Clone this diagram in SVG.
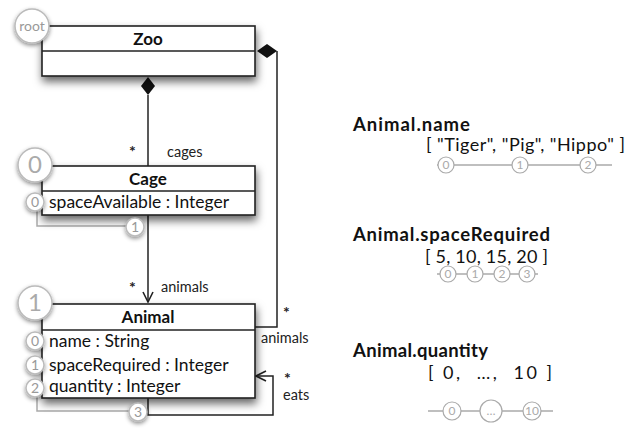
<svg xmlns="http://www.w3.org/2000/svg" width="629" height="431" viewBox="0 0 629 431">
<defs>
<style>
.box{fill:#fff;stroke:#222;stroke-width:1.6}
.ln{fill:none;stroke:#222;stroke-width:1.5}
.gl{fill:none;stroke:#aaa;stroke-width:1.5}
.bc{fill:#fff;stroke:#bbb;stroke-width:1.5}
.title{font-family:Lato,"Open Sans",sans-serif;font-weight:bold;font-size:17px;fill:#111;text-anchor:middle}
.attr{font-family:Lato,"Open Sans",sans-serif;font-size:17.5px;fill:#111}
.lbl{font-family:Lato,"Open Sans",sans-serif;font-size:14.5px;fill:#222}
.ast{font-family:Lato,"Open Sans",sans-serif;font-size:16px;font-weight:bold;fill:#222}
.big{font-family:Lato,"Open Sans",sans-serif;font-size:24px;fill:#aaa;text-anchor:middle}
.sm{font-family:Lato,"Open Sans",sans-serif;font-size:14px;fill:#999;text-anchor:middle}
.rc{fill:#fff;stroke:#aaa;stroke-width:1.2}
.rn{font-family:Lato,"Open Sans",sans-serif;font-size:12px;fill:#aaa;text-anchor:middle}
.hd{font-family:Lato,"Open Sans",sans-serif;font-weight:bold;font-size:18.5px;fill:#111}
.arr{font-family:Lato,"Open Sans",sans-serif;font-size:18px;fill:#111;white-space:pre}
</style>
<filter id="sh" x="-20%" y="-30%" width="140%" height="170%">
<feDropShadow dx="1" dy="5" stdDeviation="4" flood-color="#000" flood-opacity="0.6"/>
</filter>
<filter id="csh" x="-50%" y="-50%" width="200%" height="200%">
<feDropShadow dx="0" dy="2" stdDeviation="2" flood-color="#000" flood-opacity="0.45"/>
</filter>
<marker id="open" viewBox="0 0 12 12" refX="11" refY="6" markerWidth="12" markerHeight="12" markerUnits="userSpaceOnUse" orient="auto">
<path d="M1,1 L11,6 L1,11" fill="none" stroke="#222" stroke-width="1.6"/>
</marker>
</defs>

<g id="connectors">
<line class="ln" x1="148" y1="95" x2="148" y2="166"/>
<path class="ln" d="M148,215 V302" marker-end="url(#open)"/>
<path class="ln" d="M277,51 V327 H255"/>
<path class="ln" d="M148,398 V415 H273 V376 H256" marker-end="url(#open)"/>
<polygon points="148,77 155,86 148,95 141,86" fill="#111"/>
<polygon points="257,51 267,44 277,51 267,58" fill="#111"/>
<text class="ast" x="129" y="157">*</text>
<text class="lbl" x="167" y="157">cages</text>
<text class="ast" x="129" y="293">*</text>
<text class="lbl" x="161" y="292">animals</text>
<text class="ast" x="283" y="318">*</text>
<text class="lbl" x="261" y="343">animals</text>
<text class="ast" x="284" y="384">*</text>
<text class="lbl" x="283" y="400">eats</text>
</g>

<g id="zoo">
<rect class="box" x="42" y="26" width="213" height="50" filter="url(#sh)"/>
<line class="ln" x1="42" y1="51" x2="255" y2="51"/>
<text class="title" x="148" y="45">Zoo</text>
<circle class="bc" cx="32" cy="26" r="17" filter="url(#csh)"/>
<text class="sm" x="32" y="31">root</text>
</g>

<g id="cage">
<path class="gl" d="M37,210 V226 H130"/>
<rect class="box" x="42" y="166" width="213" height="49" filter="url(#sh)"/>
<line class="ln" x1="42" y1="191" x2="255" y2="191"/>
<text class="title" x="148" y="185">Cage</text>
<text class="attr" x="49" y="208">spaceAvailable : Integer</text>
<circle class="bc" cx="35" cy="165" r="17" filter="url(#csh)"/>
<text class="big" x="35" y="173">0</text>
<circle class="bc" cx="35" cy="202" r="9" filter="url(#csh)"/>
<text class="sm" x="35" y="207">0</text>
<circle class="bc" cx="135" cy="227" r="9" filter="url(#csh)"/>
<text class="sm" x="135" y="232">1</text>
</g>

<g id="animal">
<path class="gl" d="M37,396 V411 H130"/>
<rect class="box" x="42" y="304" width="213" height="94" filter="url(#sh)"/>
<line class="ln" x1="42" y1="330" x2="255" y2="330"/>
<text class="title" x="148" y="323">Animal</text>
<text class="attr" x="49" y="347">name : String</text>
<text class="attr" x="49" y="371">spaceRequired : Integer</text>
<text class="attr" x="49" y="392">quantity : Integer</text>
<circle class="bc" cx="35" cy="303" r="17" filter="url(#csh)"/>
<text class="big" x="35" y="311">1</text>
<circle class="bc" cx="35" cy="341" r="9" filter="url(#csh)"/>
<text class="sm" x="35" y="346">0</text>
<circle class="bc" cx="35" cy="365" r="9" filter="url(#csh)"/>
<text class="sm" x="35" y="370">1</text>
<circle class="bc" cx="35" cy="388" r="9" filter="url(#csh)"/>
<text class="sm" x="35" y="393">2</text>
<circle class="bc" cx="138" cy="412" r="9" filter="url(#csh)"/>
<text class="sm" x="138" y="417">3</text>
</g>

<g id="name-array">
<text class="hd" x="353" y="131" textLength="117" lengthAdjust="spacing">Animal.name</text>
<text class="arr" x="426" y="151" textLength="199" lengthAdjust="spacing">[ "Tiger", "Pig", "Hippo" ]</text>
<line class="gl" x1="437" y1="165" x2="612" y2="165"/>
<circle class="rc" cx="446" cy="165" r="8"/><text class="rn" x="446" y="169">0</text>
<circle class="rc" cx="520" cy="165" r="8"/><text class="rn" x="520" y="169">1</text>
<circle class="rc" cx="588" cy="165" r="8"/><text class="rn" x="588" y="169">2</text>
</g>

<g id="space-array">
<text class="hd" x="353" y="241" textLength="197" lengthAdjust="spacing">Animal.spaceRequired</text>
<text class="arr" x="425" y="263" textLength="123" lengthAdjust="spacing">[ 5, 10, 15, 20 ]</text>
<line class="gl" x1="437" y1="274" x2="538" y2="274"/>
<circle class="rc" cx="448" cy="274" r="8"/><text class="rn" x="448" y="278">0</text>
<circle class="rc" cx="475" cy="274" r="8"/><text class="rn" x="475" y="278">1</text>
<circle class="rc" cx="502" cy="274" r="8"/><text class="rn" x="502" y="278">2</text>
<circle class="rc" cx="527" cy="274" r="8"/><text class="rn" x="527" y="278">3</text>
</g>

<g id="quantity-array">
<text class="hd" x="353" y="357" textLength="135" lengthAdjust="spacing">Animal.quantity</text>
<text class="arr" x="428" y="379" textLength="124" lengthAdjust="spacing">[ 0,  …,  10 ]</text>
<line class="gl" x1="428" y1="411" x2="553" y2="411"/>
<circle class="rc" cx="452" cy="411" r="9"/><text class="rn" x="452" y="415">0</text>
<circle class="rc" cx="491" cy="411" r="11"/><text class="rn" x="491" y="415">…</text>
<circle class="rc" cx="532" cy="411" r="9"/><text class="rn" x="532" y="415">10</text>
</g>
</svg>
